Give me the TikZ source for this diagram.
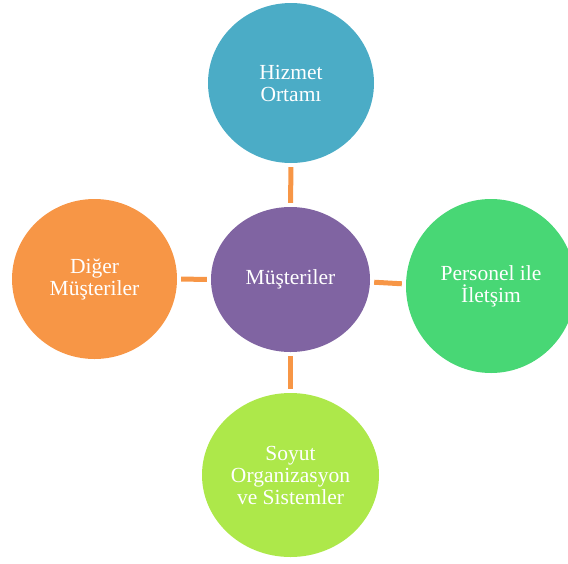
\documentclass[tikz,border=0pt]{standalone}
\usepackage{fontspec}
\setmainfont{Liberation Serif}
\usetikzlibrary{shapes.geometric}
\definecolor{cTeal}{HTML}{4BACC6}
\definecolor{cPurple}{HTML}{8064A2}
\definecolor{cGreen}{HTML}{48D775}
\definecolor{cLime}{HTML}{ADE84A}
\definecolor{cOrange}{HTML}{F79646}
\tikzset{
  bubble/.style={ellipse, inner sep=0pt, text=white, align=center,
    font=\fontsize{21.5}{22}\selectfont},
  link/.style={draw=cOrange, line width=5pt, shorten >=4pt, shorten <=4pt}
}
\begin{document}
\begin{tikzpicture}[x=1pt,y=-1pt]
\useasboundingbox (0,0) rectangle (568,563);
\clip (0,0) rectangle (568,563);
\node[bubble, fill=cPurple, minimum width=159pt, minimum height=145pt] (m) at (290.5,279.5) {Müşteriler};
\node[bubble, fill=cTeal, minimum width=166pt, minimum height=160pt] (t) at (291,83) {Hizmet\\Ortamı};
\node[bubble, fill=cGreen, minimum width=170pt, minimum height=174pt] (r) at (491,286) {Personel ile\\İletşim};
\node[bubble, fill=cLime, minimum width=177pt, minimum height=164pt] (b) at (290.5,475) {Soyut\\Organizasyon\\ve Sistemler};
\node[bubble, fill=cOrange, minimum width=165pt, minimum height=160pt] (l) at (94.5,279) {Diğer\\Müşteriler};
\draw[link] (t.south) -- (m.north);
\draw[link] (m.south) -- (b.north);
\draw[link] (l.east) -- (m.west);
\draw[link] ([yshift=-2.5pt]m.east) -- ([yshift=2pt]r.west);
\end{tikzpicture}
\end{document}
